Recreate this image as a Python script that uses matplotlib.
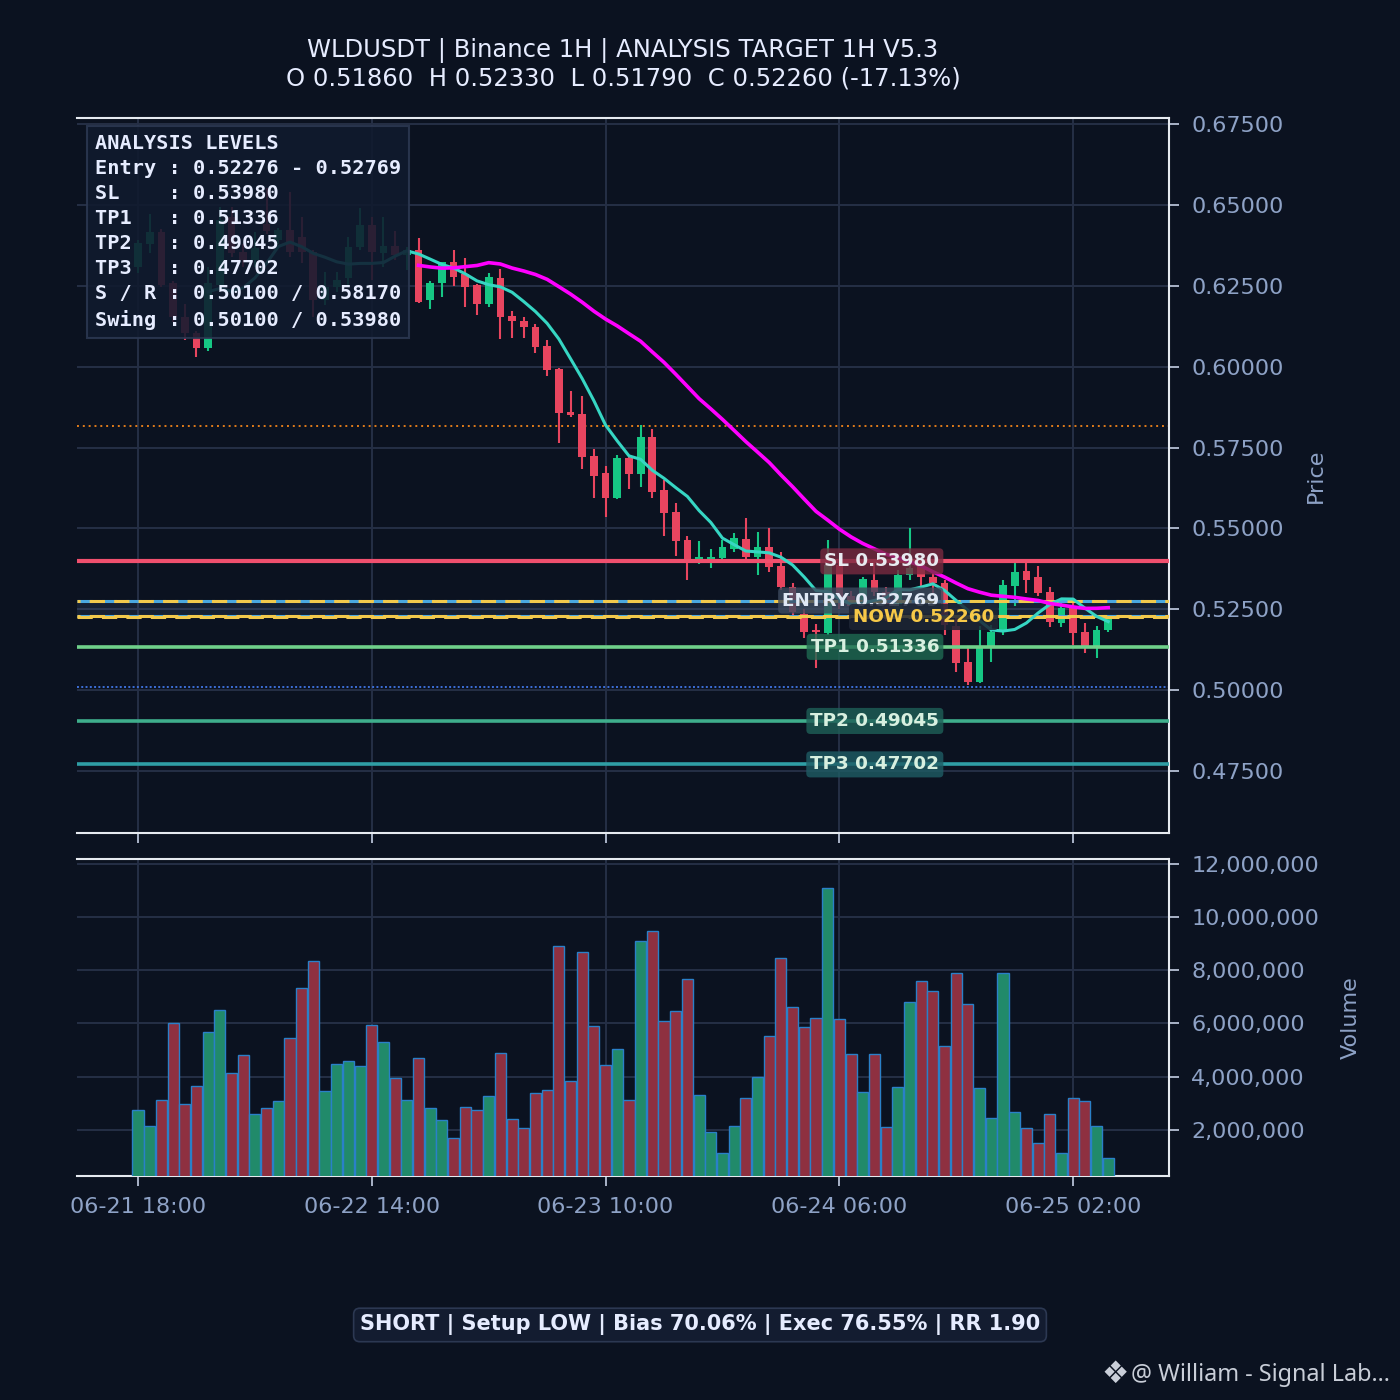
import numpy as np
import pandas as pd
import matplotlib
matplotlib.use("Agg")
import matplotlib.pyplot as plt
from matplotlib.ticker import FuncFormatter

# ---------------- data ----------------
start_time = "2025-06-21 18:00"
opens = np.array([
    .6308, .6379, .6416, .6258, .6153, .6104, .6058, .6252, .6463, .6354,
    .6330, .6440, .6392, .6422, .6401, .6354, .6206, .6246, .6274, .6370,
    .6438, .6351, .6373, .6345, .6360, .6206, .6258, .6323, .6286, .6252,
    .6194, .6274, .6156, .6141, .6122, .6064, .5993, .5860, .5854, .5724,
    .5671, .5594, .5718, .5668, .5782, .5619, .5551, .5464, .5405, .5405,
    .5408, .5436, .5467, .5411, .5442, .5384, .5319, .5236, .5185, .5176,
    .5387, .5290, .5262, .5340, .5303, .5240, .5356, .5387, .5350, .5330,
    .5197, .5087, .5025, .5133, .5186, .5322, .5368, .5350, .5303, .5207,
    .5254, .5180, .5130, .5186])
highs = np.array([
    .6391, .6472, .6425, .6265, .6194, .6110, .6308, .6493, .6493, .6380,
    .6416, .6552, .6430, .6540, .6463, .6360, .6293, .6293, .6401, .6490,
    .6463, .6463, .6420, .6370, .6398, .6265, .6323, .6360, .6336, .6255,
    .6289, .6302, .6172, .6153, .6132, .6082, .5995, .5925, .5909, .5745,
    .5693, .5727, .5720, .5820, .5807, .5650, .5578, .5477, .5461, .5436,
    .5464, .5486, .5532, .5489, .5501, .5427, .5330, .5250, .5204, .5464,
    .5400, .5305, .5350, .5396, .5320, .5370, .5501, .5396, .5365, .5340,
    .5230, .5130, .5198, .5201, .5340, .5396, .5396, .5384, .5319, .5285,
    .5279, .5207, .5198, .5233])
lows = np.array([
    .6289, .6351, .6246, .6138, .6082, .6030, .6050, .6246, .6340, .6308,
    .6308, .6410, .6380, .6340, .6320, .6153, .6190, .6230, .6246, .6360,
    .6268, .6308, .6330, .6300, .6197, .6178, .6215, .6249, .6184, .6160,
    .6184, .6085, .6088, .6088, .6042, .5971, .5764, .5844, .5684, .5594,
    .5535, .5590, .5622, .5628, .5594, .5477, .5415, .5340, .5390, .5378,
    .5405, .5427, .5402, .5356, .5365, .5310, .5226, .5160, .5068, .5170,
    .5250, .5240, .5255, .5290, .5215, .5225, .5340, .5320, .5300, .5170,
    .5056, .5016, .5022, .5087, .5170, .5260, .5300, .5290, .5195, .5195,
    .5139, .5115, .5099, .5179])
closes = np.array([
    .6382, .6416, .6252, .6153, .6104, .6058, .6258, .6453, .6351, .6330,
    .6367, .6420, .6422, .6354, .6354, .6206, .6246, .6268, .6370, .6438,
    .6354, .6373, .6345, .6360, .6200, .6258, .6323, .6277, .6246, .6194,
    .6277, .6153, .6141, .6122, .6061, .5990, .5857, .5850, .5721, .5662,
    .5594, .5718, .5668, .5782, .5612, .5548, .5461, .5402, .5412, .5412,
    .5442, .5470, .5411, .5442, .5381, .5319, .5242, .5180, .5179, .5387,
    .5288, .5260, .5343, .5303, .5240, .5356, .5378, .5350, .5330, .5200,
    .5084, .5025, .5133, .5180, .5325, .5365, .5340, .5300, .5210, .5254,
    .5176, .5130, .5186, .5226])
volumes_m = np.array([
    2.75, 2.15, 3.13, 6.01, 2.97, 3.64, 5.68, 6.51, 4.13, 4.81,
    2.60, 2.82, 3.09, 5.45, 7.33, 8.34, 3.47, 4.48, 4.59, 4.41,
    5.94, 5.31, 3.94, 3.13, 4.69, 2.83, 2.38, 1.69, 2.85, 2.75,
    3.28, 4.88, 2.40, 2.06, 3.38, 3.49, 8.91, 3.83, 8.68, 5.90,
    4.43, 5.03, 3.12, 9.11, 9.48, 6.09, 6.46, 7.68, 3.30, 1.91,
    1.12, 2.15, 3.19, 3.99, 5.53, 8.45, 6.61, 5.86, 6.20, 11.09,
    6.16, 4.85, 3.43, 4.85, 2.10, 3.62, 6.80, 7.59, 7.21, 5.15,
    7.91, 6.73, 3.57, 2.45, 7.89, 2.66, 2.06, 1.52, 2.59, 1.12,
    3.19, 3.09, 2.14, 0.94])
volumes = volumes_m * 1e6

entry_low, entry_high = 0.52276, 0.52769
sl = 0.53980
tp1, tp2, tp3 = 0.51336, 0.49045, 0.47702
support, resistance = 0.50100, 0.58170
now_price = 0.52260

title_1 = "WLDUSDT | Binance 1H | ANALYSIS TARGET 1H V5.3"
title_2 = "O 0.51860  H 0.52330  L 0.51790  C 0.52260 (-17.13%)"
box_text = ("ANALYSIS LEVELS\n"
            "Entry : 0.52276 - 0.52769\n"
            "SL    : 0.53980\n"
            "TP1   : 0.51336\n"
            "TP2   : 0.49045\n"
            "TP3   : 0.47702\n"
            "S / R : 0.50100 / 0.58170\n"
            "Swing : 0.50100 / 0.53980")
footer = "SHORT | Setup LOW | Bias 70.06% | Exec 76.55% | RR 1.90"
watermark = "@ William - Signal Lab..."
logo = "\u2756"

# ---------------- style ----------------
BG = "#0b1220"
GRID = "#252f46"
TICK = "#8ea2c6"
SPINE = "#e6eaf0"
UP = "#16c784"
DN = "#e8455f"
VUP = "#218a6a"
VDN = "#8e3040"

fig = plt.figure(figsize=(14, 14), dpi=100, facecolor=BG)
ax = fig.add_axes([0.055, 0.405, 0.78, 0.5107], facecolor=BG)
axv = fig.add_axes([0.055, 0.16, 0.78, 0.2264], facecolor=BG, sharex=ax)

n = len(closes)
x = np.arange(n)
up = closes >= opens
ccol = np.where(up, UP, DN)

# candles
ax.vlines(x, lows, highs, colors=ccol, lw=1.5, zorder=3)
body = np.maximum(np.abs(closes - opens), 0.0004)
ax.bar(x, body, bottom=np.minimum(opens, closes), width=0.66,
       color=ccol, zorder=4, linewidth=0)

# moving averages
sma_fast = pd.Series(closes).rolling(7).mean()
sma_slow = pd.Series(closes).rolling(25).mean()
ax.plot(x, sma_fast, color="#36d6c3", lw=2.2, zorder=7)
ax.plot(x, sma_slow, color="#ff00ff", lw=2.6, zorder=7)

# levels
ax.axhspan(entry_low, entry_high, color="#4a6a9a", alpha=0.16, zorder=1, lw=0)
ax.axhline(resistance, color="#e07b1a", ls=(0, (1, 2)), lw=1.4, zorder=2)
ax.axhline(support, color="#3d6fd8", ls=(0, (1, 1.2)), lw=1.4, zorder=2)
ax.axhline(sl, color="#f0506e", lw=3.0, zorder=6)
ax.axhline(tp1, color="#6fd08a", lw=2.6, zorder=6)
ax.axhline(tp2, color="#3fae8c", lw=2.6, zorder=6)
ax.axhline(tp3, color="#2f9ea5", lw=2.6, zorder=6)
for e in (entry_high, entry_low):
    ax.axhline(e, color="#4aa8e0", ls=(0, (5, 3)), lw=2.2, zorder=6)
    ax.axhline(e, color="#f2c94c", ls=(4, (5, 3)), lw=2.2, zorder=6)
ax.axhline(now_price, color="#f2c94c", ls=(0, (5, 3)), lw=2.2, zorder=6)

# level labels
def level_label(y, text, xpos, fc, tc, alpha=0.8):
    ax.text(xpos, y, text, ha="right", va="center", fontsize=13.2,
            fontweight="bold", color=tc, zorder=9,
            bbox=dict(boxstyle="round,pad=0.22", fc=fc, ec="none", alpha=alpha))

lx = n - 15.45
level_label(sl, f"SL {sl:.5f}", lx, "#7a2a40", "#e8eaf0")
level_label(entry_high, f"ENTRY {entry_high:.5f}", lx, "#3d4a5e", "#e0e8f5")
level_label(now_price, f"NOW {now_price:.5f}", n - 10.75, "#1d2535", "#f7c948", 0.85)
level_label(tp1, f"TP1 {tp1:.5f}", lx, "#1f6a52", "#d8f0e0")
level_label(tp2, f"TP2 {tp2:.5f}", lx, "#1f6058", "#d8f0e0")
level_label(tp3, f"TP3 {tp3:.5f}", lx, "#1e5c64", "#d8f0e0")

# analysis box
ax.text(0.0165, 0.977, box_text, transform=ax.transAxes, ha="left", va="top",
        family="DejaVu Sans Mono", fontweight="bold", fontsize=14.6,
        color="#e6ecff", linespacing=1.40, zorder=10,
        bbox=dict(boxstyle="square,pad=0.4", fc="#101a2e", ec="#2c3852",
                  lw=1.5, alpha=0.88))

# volume
vcol = np.where(up, VUP, VDN)
axv.bar(x, volumes, width=0.95, color=vcol, edgecolor="#2a80c8", lw=1.0, zorder=3)

# axes cosmetics
ax.set_xlim(-5.22, 88.2)
ax.set_ylim(0.4558, 0.6769)
axv.set_ylim(0.26e6, 12.19e6)

ax.set_yticks(np.arange(0.475, 0.6751, 0.025))
ax.yaxis.set_major_formatter(FuncFormatter(lambda v, p: f"{v:.5f}"))
axv.set_yticks(np.arange(2e6, 12.1e6, 2e6))
axv.yaxis.set_major_formatter(FuncFormatter(lambda v, p: f"{v:,.0f}"))

times = pd.date_range(start_time, periods=n, freq="h")
tick_idx = x[::20]
axv.set_xticks(tick_idx)
axv.set_xticklabels([times[i].strftime("%m-%d %H:%M") for i in tick_idx])

for a in (ax, axv):
    a.yaxis.tick_right()
    a.yaxis.set_label_position("right")
    a.grid(True, color=GRID, lw=1.4)
    a.set_axisbelow(True)
    a.tick_params(axis="both", colors="#aab4c8", labelcolor=TICK,
                  labelsize=16, length=7, width=1.4)
    a.tick_params(axis="y", pad=9)
    a.tick_params(axis="x", pad=8)
    a.spines["left"].set_visible(False)
    for s in ("top", "right", "bottom"):
        a.spines[s].set_color(SPINE)
        a.spines[s].set_linewidth(1.5)
ax.tick_params(axis="x", labelbottom=False)

ax.set_ylabel("Price", color=TICK, fontsize=16, labelpad=16)
axv.set_ylabel("Volume", color=TICK, fontsize=16, labelpad=16)

# titles and footer
fig.text(0.445, 0.9636, title_1, ha="center", va="center", fontsize=17.5, color="#e6ecff")
fig.text(0.445, 0.9436, title_2, ha="center", va="center", fontsize=17.5, color="#e6ecff")
fig.text(0.5, 0.0536, footer, ha="center", va="center", fontsize=15,
         fontweight="bold", color="#e6ecff",
         bbox=dict(boxstyle="round,pad=0.3", fc="#131c30", ec="#2c3852", lw=1.2))
fig.text(0.993, 0.018, watermark, ha="right", va="center", fontsize=16.8,
         color="#c9ced8", family=["Noto Sans", "DejaVu Sans"])
fig.text(0.7965, 0.018, logo, ha="center", va="center", fontsize=22,
         color="#c9ced8", family=["DejaVu Sans"])

fig.savefig("out.png", dpi=100, facecolor=BG)
